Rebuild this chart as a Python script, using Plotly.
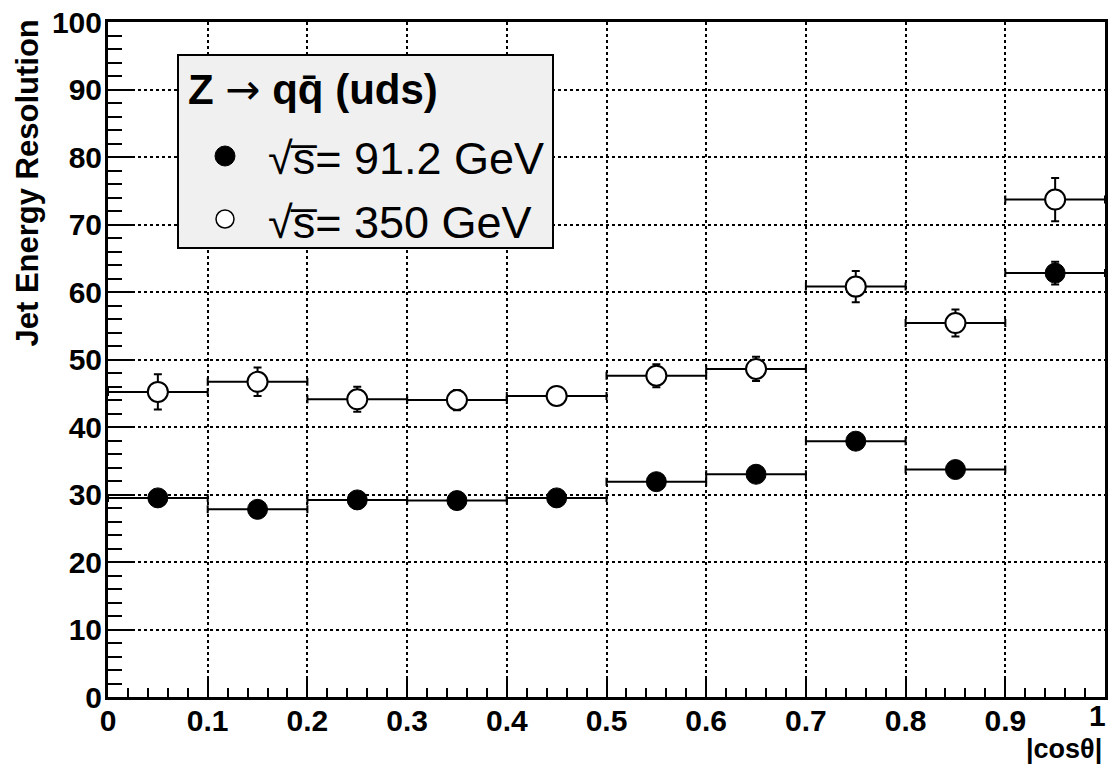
import plotly.graph_objects as go

# ---- data ----
cos_theta = [0.05, 0.15, 0.25, 0.35, 0.45, 0.55, 0.65, 0.75, 0.85, 0.95]
bin_half_width = [0.05] * 10
res_91 = [29.5, 27.8, 29.2, 29.1, 29.5, 31.9, 33.0, 37.9, 33.7, 62.8]
err_91 = [0.8, 0.8, 0.8, 0.8, 0.8, 0.9, 0.9, 1.0, 1.0, 1.7]
res_350 = [45.2, 46.7, 44.1, 44.0, 44.6, 47.6, 48.6, 60.8, 55.4, 73.7]
err_350 = [2.6, 2.1, 1.85, 1.5, 1.3, 1.7, 1.8, 2.3, 2.0, 3.2]
x_ticks = [0, 0.1, 0.2, 0.3, 0.4, 0.5, 0.6, 0.7, 0.8, 0.9, 1]
x_tick_labels = ["0", "0.1", "0.2", "0.3", "0.4", "0.5", "0.6", "0.7", "0.8", "0.9", "1"]
y_ticks = [0, 10, 20, 30, 40, 50, 60, 70, 80, 90, 100]

FONT = "Liberation Sans, Arial, Helvetica, sans-serif"
W, H = 1108, 766
L, R, T, B = 108, 3, 22, 69
PW, PH = W - L - R, H - T - B


def px(xpix):
    return (xpix - L) / PW


def py(ypix):
    return (H - B - ypix) / PH


fig = go.Figure()

err_line = dict(color="black", thickness=2, width=4)

fig.add_trace(go.Scatter(
    x=cos_theta, y=res_350, mode="markers", name="350 GeV",
    error_x=dict(type="data", array=bin_half_width, **err_line),
    error_y=dict(type="data", array=err_350, **err_line),
    marker=dict(symbol="circle", size=20, color="white",
                line=dict(color="black", width=2)),
    showlegend=False,
))
fig.add_trace(go.Scatter(
    x=cos_theta, y=res_91, mode="markers", name="91.2 GeV",
    error_x=dict(type="data", array=bin_half_width, **err_line),
    error_y=dict(type="data", array=err_91, **err_line),
    marker=dict(symbol="circle", size=20, color="black",
                line=dict(color="black", width=1)),
    showlegend=False,
))

tick_font = dict(family=FONT, size=30, color="black", weight="bold")
axis_common = dict(
    showline=True, linecolor="black", linewidth=3, mirror=True,
    showgrid=True, gridcolor="black", gridwidth=1.5, griddash="dot",
    ticks="inside", tickcolor="black", tickwidth=2,
    tickfont=tick_font,
    zeroline=False, automargin=False, ticklabeloverflow="allow",
)

# last x label is placed as an annotation so it stays inside the page
fig.update_xaxes(
    range=[0, 1], tickvals=x_ticks,
    ticktext=x_tick_labels[:-1] + [""], ticklen=19,
    ticklabelstandoff=-5,
    minor=dict(ticks="inside", ticklen=9, tickcolor="black", tickwidth=2,
               dtick=0.02, showgrid=False),
    **axis_common,
)
fig.update_yaxes(
    range=[0, 100], tickvals=y_ticks, ticklen=27,
    ticklabelstandoff=-3,
    minor=dict(ticks="inside", ticklen=14, tickcolor="black", tickwidth=2,
               dtick=2, showgrid=False),
    **axis_common,
)

# axis titles
annotations = [
    dict(text=x_tick_labels[-1], xref="paper", yref="paper",
         x=px(1108), y=py(715), xanchor="right", yanchor="middle",
         showarrow=False, font=tick_font),
    dict(text="<b>|cosθ|</b>", xref="paper", yref="paper",
         x=px(1104), y=py(749), xanchor="right", yanchor="middle",
         showarrow=False, font=dict(family=FONT, size=27, color="black")),
    dict(text="<b>Jet Energy Resolution</b>", xref="paper", yref="paper",
         x=px(27), y=py(18), xanchor="center", yanchor="top", textangle=-90,
         showarrow=False, font=dict(family=FONT, size=31, color="black")),
]

# legend box
shapes = [
    dict(type="rect", xref="paper", yref="paper",
         x0=px(178), x1=px(553), y0=py(248), y1=py(55),
         fillcolor="#f0f0f0", line=dict(color="black", width=2)),
    dict(type="circle", xref="paper", yref="paper",
         xsizemode="pixel", ysizemode="pixel",
         xanchor=px(225), yanchor=py(156), x0=-10, x1=10, y0=-10, y1=10,
         fillcolor="black", line=dict(color="black", width=1)),
    dict(type="circle", xref="paper", yref="paper",
         xsizemode="pixel", ysizemode="pixel",
         xanchor=px(225), yanchor=py(219), x0=-9, x1=9, y0=-9, y1=9,
         fillcolor="white", line=dict(color="black", width=1.5)),
]
annotations += [
    dict(text="<b>Z <span style=\"font-family:'DejaVu Sans'; font-weight:normal\">→</span> qq\u0304 (uds)</b>",
         xref="paper", yref="paper",
         x=px(186), y=py(90), xanchor="left", yanchor="middle",
         showarrow=False, font=dict(family=FONT, size=42, color="black")),
    dict(text="√s\u0305= 91.2 GeV", xref="paper", yref="paper",
         x=px(266), y=py(158), xanchor="left", yanchor="middle",
         showarrow=False, font=dict(family=FONT, size=45, color="black")),
    dict(text="√s\u0305= 350 GeV", xref="paper", yref="paper",
         x=px(266), y=py(222), xanchor="left", yanchor="middle",
         showarrow=False, font=dict(family=FONT, size=45, color="black")),
]

fig.update_layout(
    width=W, height=H,
    margin=dict(l=L, r=R, t=T, b=B, pad=0),
    paper_bgcolor="white", plot_bgcolor="white",
    shapes=shapes, annotations=annotations,
    showlegend=False,
)

fig.write_html("out.html", config={"displayModeBar": False},
               post_script="document.body.style.margin='0';")
